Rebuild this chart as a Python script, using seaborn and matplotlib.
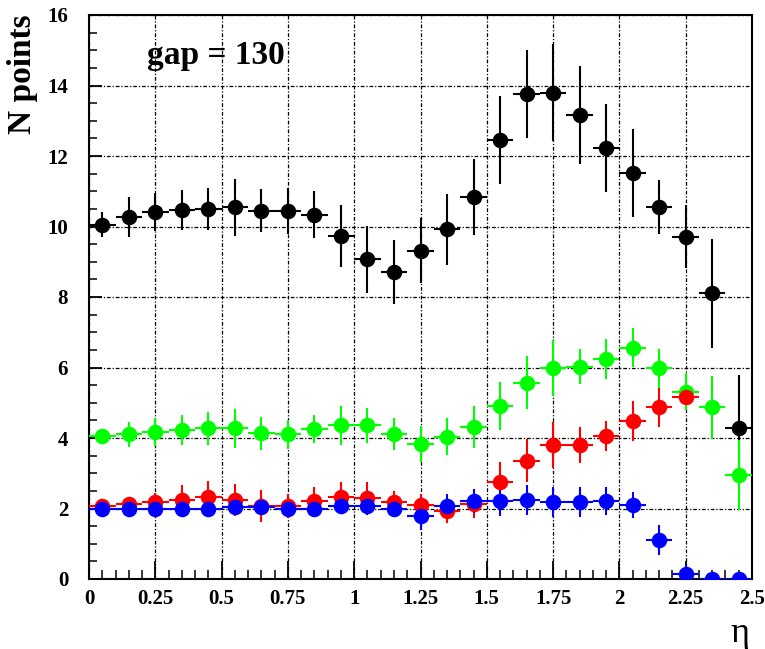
import numpy as np
import pandas as pd
import matplotlib
matplotlib.use("Agg")
import matplotlib.pyplot as plt
import seaborn as sns
from matplotlib.ticker import MultipleLocator, FixedLocator

# ---------------- data ----------------
eta = [0.05, 0.15, 0.25, 0.35, 0.45, 0.55, 0.65, 0.75, 0.85, 0.95,
       1.05, 1.15, 1.25, 1.35, 1.45, 1.55, 1.65, 1.75, 1.85, 1.95,
       2.05, 2.15, 2.25, 2.35, 2.45]
eta_halfwidth = 0.05

black_y = [10.05, 10.28, 10.41, 10.47, 10.49, 10.54, 10.45, 10.44, 10.33, 9.73,
           9.07, 8.71, 9.31, 9.92, 10.83, 12.45, 13.76, 13.80, 13.16, 12.22,
           11.51, 10.56, 9.71, 8.10, 4.29]
black_err = [0.35, 0.57, 0.55, 0.57, 0.60, 0.80, 0.60, 0.65, 0.67, 0.88,
             0.95, 0.90, 0.92, 1.00, 1.08, 1.25, 1.24, 1.37, 1.40, 1.25,
             1.25, 0.77, 0.90, 1.55, 1.50]

green_y = [4.06, 4.10, 4.17, 4.23, 4.27, 4.27, 4.13, 4.10, 4.25, 4.36,
           4.36, 4.12, 3.83, 4.04, 4.32, 4.91, 5.57, 5.98, 6.02, 6.25,
           6.56, 5.98, 5.31, 4.87, 2.95]
green_err = [0.20, 0.35, 0.40, 0.42, 0.47, 0.55, 0.47, 0.42, 0.40, 0.55,
             0.50, 0.45, 0.50, 0.52, 0.60, 0.67, 0.75, 0.80, 0.50, 0.57,
             0.55, 0.55, 0.52, 0.90, 1.00]

red_y = [2.07, 2.13, 2.18, 2.24, 2.32, 2.24, 2.07, 2.07, 2.22, 2.33,
         2.29, 2.19, 2.10, 1.94, 2.13, 2.76, 3.36, 3.80, 3.80, 4.06,
         4.49, 4.87, 5.17, np.nan, np.nan]
red_err = [0.10, 0.20, 0.25, 0.42, 0.45, 0.45, 0.45, 0.35, 0.40, 0.42,
           0.45, 0.30, 0.30, 0.35, 0.40, 0.55, 0.60, 0.66, 0.50, 0.42,
           0.57, 0.55, 0.20, np.nan, np.nan]

blue_y = [1.98, 2.00, 2.00, 2.00, 2.00, 2.03, 2.03, 2.00, 2.00, 2.07,
          2.07, 2.00, 1.79, 2.07, 2.21, 2.21, 2.24, 2.19, 2.19, 2.22,
          2.10, 1.10, 0.14, 0.00, 0.00]
blue_err = [0.10, 0.15, 0.20, 0.15, 0.20, 0.20, 0.20, 0.20, 0.20, 0.20,
            0.25, 0.25, 0.40, 0.35, 0.35, 0.42, 0.42, 0.42, 0.42, 0.40,
            0.38, 0.42, 0.25, 0.00, 0.00]

series_names = ["black", "green", "red", "blue"]
series_colors = ["#000000", "#00ff00", "#ff0000", "#0000ff"]
series_values = [black_y, green_y, red_y, blue_y]
series_errors = [black_err, green_err, red_err, blue_err]

x_ticks = [0, 0.25, 0.5, 0.75, 1, 1.25, 1.5, 1.75, 2, 2.25, 2.5]
x_ticklabels = ["0", "0.25", "0.5", "0.75", "1", "1.25", "1.5", "1.75", "2", "2.25", "2.5"]
y_ticks = [0, 2, 4, 6, 8, 10, 12, 14, 16]
annotation = "gap = 130"
y_title = "N points"
x_title = "\u03b7"

# ---------------- figure ----------------
sns.set_theme(style="white")
plt.rcParams["font.family"] = ["Liberation Serif", "DejaVu Serif"]
plt.rcParams["text.color"] = "black"
plt.rcParams["axes.labelcolor"] = "black"
plt.rcParams["xtick.color"] = "black"
plt.rcParams["ytick.color"] = "black"

W, H = 765, 649
fig = plt.figure(figsize=(W / 100, H / 100), dpi=100)
ax = fig.add_axes([89 / W, 1 - 579 / H, (752 - 89) / W, (579 - 15) / H])
ax.set_facecolor("white")

frames = []
for name, vals, errs in zip(series_names, series_values, series_errors):
    frames.append(pd.DataFrame({"eta": eta, "n": vals, "err": errs, "series": name}))
df = pd.concat(frames, ignore_index=True)

for name, color in zip(series_names, series_colors):
    sub = df[df["series"] == name].dropna()
    ax.errorbar(sub["eta"], sub["n"], xerr=eta_halfwidth, yerr=sub["err"],
                fmt="none", ecolor=color, elinewidth=1.5, capsize=0, zorder=3)
    sns.scatterplot(data=sub, x="eta", y="n", ax=ax, color=color, s=125,
                    marker="o", edgecolor=color, linewidth=0, legend=False, zorder=4)

ax.set_xlim(0, 2.5)
ax.set_ylim(0, 16)
ax.set_xlabel("")
ax.set_ylabel("")

ax.xaxis.set_major_locator(FixedLocator(x_ticks))
ax.set_xticklabels(x_ticklabels)
ax.xaxis.set_minor_locator(MultipleLocator(0.05))
ax.yaxis.set_major_locator(FixedLocator(y_ticks))
ax.yaxis.set_minor_locator(MultipleLocator(0.5))

ax.grid(True, which="major", color="black", linewidth=0.9,
        linestyle=(0, (3, 1.5, 1, 1.5)))
ax.set_axisbelow(True)

ax.tick_params(axis="x", which="major", direction="in", length=13, width=1.3,
               pad=7, labelsize=15, bottom=True, top=False, colors="black")
ax.tick_params(axis="x", which="minor", direction="in", length=6.5, width=1.1,
               bottom=True, top=False)
ax.tick_params(axis="y", which="major", direction="in", length=9.7, width=1.3,
               pad=15, labelsize=15, left=True, right=False, colors="black")
ax.tick_params(axis="y", which="minor", direction="in", length=6, width=1.1,
               left=True, right=False)
for lab in ax.get_xticklabels() + ax.get_yticklabels():
    lab.set_fontweight("bold")

for sp in ax.spines.values():
    sp.set_visible(True)
    sp.set_color("black")
    sp.set_linewidth(1.5)

ax.text(0.2175, 14.61, annotation, fontsize=24, fontweight="bold", color="black",
        ha="left", va="baseline", zorder=5)

fig.text(22 / W, 1 - 14 / H, y_title, rotation=90, fontsize=24, fontweight="bold",
         color="black", ha="center", va="top")
fig.text(740 / W, 1 - 634 / H, x_title, fontsize=26, color="black",
         ha="center", va="center")

fig.savefig("out.png", dpi=100, facecolor="white")
